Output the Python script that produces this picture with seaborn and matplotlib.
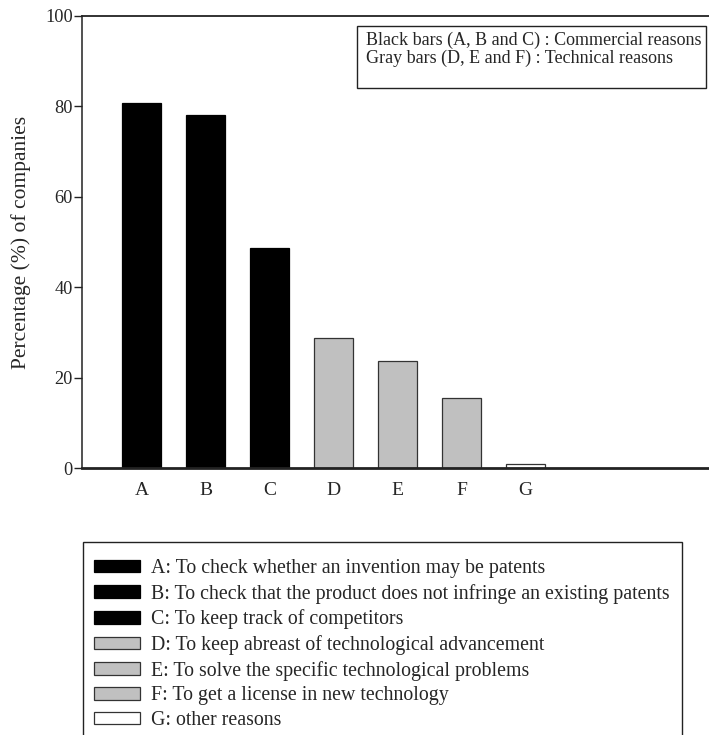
import matplotlib
matplotlib.use("Agg")
import matplotlib.pyplot as plt
from matplotlib.patches import Patch, Rectangle
import seaborn as sns
import pandas as pd

categories = ["A", "B", "C", "D", "E", "F", "G"]
percentages = [80.8, 78.1, 48.7, 28.8, 23.6, 15.6, 1.0]
bar_colors = ["#000000", "#000000", "#000000", "#c0c0c0", "#c0c0c0", "#c0c0c0", "#ffffff"]
reasons = [
    "A: To check whether an invention may be patents",
    "B: To check that the product does not infringe an existing patents",
    "C: To keep track of competitors",
    "D: To keep abreast of technological advancement",
    "E: To solve the specific technological problems",
    "F: To get a license in new technology",
    "G: other reasons",
]
note_lines = [
    "Black bars (A, B and C) : Commercial reasons",
    "Gray bars (D, E and F) : Technical reasons",
]
y_ticks = [0, 20, 40, 60, 80, 100]

sns.set_theme(style="white")
plt.rcParams["font.family"] = ["Liberation Serif", "DejaVu Serif"]
plt.rcParams["font.size"] = 13

W, H = 709, 735
fig = plt.figure(figsize=(W / 100, H / 100), dpi=100)
ax_left, ax_top, ax_bottom = 82, 15.7, 468.3
ax = fig.add_axes([ax_left / W, 1 - ax_bottom / H, 1 - ax_left / W, (ax_bottom - ax_top) / H])

df = pd.DataFrame({"reason": categories, "pct": percentages})
sns.barplot(data=df, x="reason", y="pct", hue="reason", palette=bar_colors,
            width=0.61, legend=False, ax=ax, saturation=1)
for bar, c in zip(ax.patches, bar_colors):
    bar.set_facecolor(c)
    bar.set_edgecolor("#000000" if c == "#000000" else "#333333")
    bar.set_linewidth(0.9)

ax.set_xlim(-0.93, -0.93 + (W - ax_left) / 64)
ax.set_ylim(0, 100)
ax.set_yticks(y_ticks)
ax.set_xlabel("")
ax.set_ylabel("Percentage (%) of companies", fontsize=15.5)
ax.yaxis.set_label_coords(-0.0813, 0.5)

for side in ["left", "top", "bottom"]:
    ax.spines[side].set_visible(True)
    ax.spines[side].set_color("#222222")
ax.spines["left"].set_linewidth(1.1)
ax.spines["top"].set_linewidth(1.3)
ax.spines["bottom"].set_linewidth(2.0)
ax.spines["right"].set_visible(False)

ax.tick_params(axis="y", direction="out", length=5.5, width=1, color="#222222",
               left=True, labelsize=13.2, pad=1)
ax.tick_params(axis="x", length=0, labelsize=14, pad=10)

# note box in the upper right
fig.patches.append(Rectangle((357 / W, 1 - 88 / H), (706 - 357) / W, (88 - 26) / H,
                             transform=fig.transFigure, facecolor="white",
                             edgecolor="#222222", linewidth=1.0))
fig.text(366 / W, 1 - 49 / H, "\n".join(note_lines), ha="left", va="center",
         fontsize=13, linespacing=1.07)

# legend with the reason descriptions
fig.patches.append(Rectangle((83 / W, 1 - 745 / H), (682 - 83) / W, (745 - 542) / H,
                             transform=fig.transFigure, facecolor="white",
                             edgecolor="#222222", linewidth=1.0, clip_on=False))
handles = [Patch(facecolor=c, edgecolor="#000000" if c == "#000000" else "#333333",
                 linewidth=0.9) for c in bar_colors]
fig.legend(handles, reasons, loc="upper left", bbox_to_anchor=(94 / W, 1 - 559 / H),
           frameon=False, borderpad=0, handlelength=2.31, handleheight=0.6,
           handletextpad=0.55, labelspacing=0.29, fontsize=14.3, borderaxespad=0)

fig.savefig("out.png", dpi=100)
